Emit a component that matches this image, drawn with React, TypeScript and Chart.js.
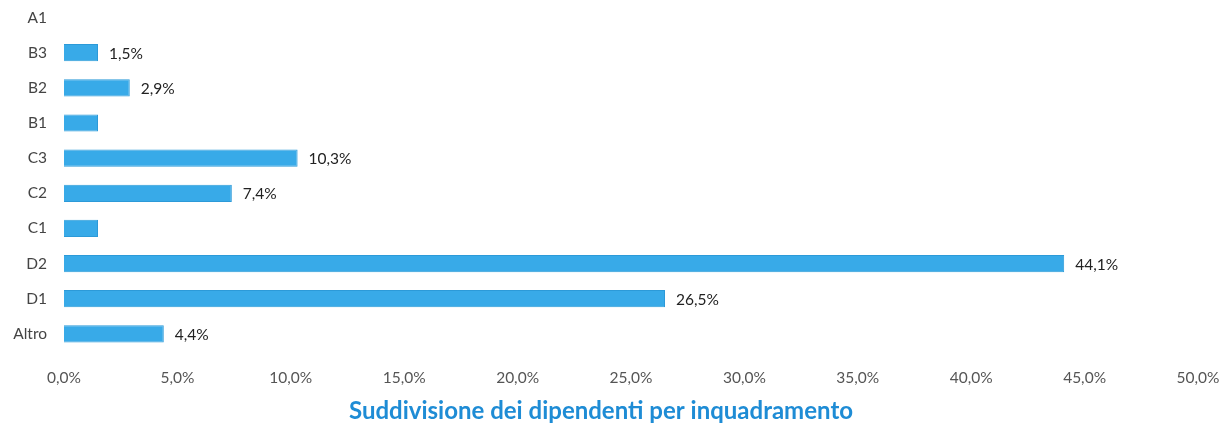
import React, { useEffect, useRef } from "react";
import { Chart, registerables } from "chart.js";

Chart.register(...registerables);

const categories = ["A1", "B3", "B2", "B1", "C3", "C2", "C1", "D2", "D1", "Altro"];
const values = [0, 1.5, 2.9, 1.5, 10.3, 7.4, 1.5, 44.1, 26.5, 4.4];
const valueLabels: (string | null)[] = [null, "1,5%", "2,9%", null, "10,3%", "7,4%", null, "44,1%", "26,5%", "4,4%"];
const titleText = "Suddivisione dei dipendenti per inquadramento";

const FONT = "Lato, 'Open Sans', sans-serif";

const valueLabelPlugin = {
  id: "valueLabels",
  afterDatasetsDraw(chart: any) {
    const ctx = chart.ctx;
    const meta = chart.getDatasetMeta(0);
    ctx.save();
    ctx.font = `15.5px ${FONT}`;
    ctx.fillStyle = "#222";
    ctx.textAlign = "left";
    ctx.textBaseline = "middle";
    meta.data.forEach((bar: any, i: number) => {
      const lbl = valueLabels[i];
      if (!lbl) return;
      ctx.fillText(lbl, bar.x + 11, bar.y + 1);
    });
    ctx.restore();
  },
};

const bottomTitlePlugin = {
  id: "bottomTitle",
  afterDraw(chart: any) {
    const ctx = chart.ctx;
    ctx.save();
    ctx.font = `bold 24px ${FONT}`;
    ctx.fillStyle = "#1E8CD5";
    ctx.textAlign = "center";
    ctx.textBaseline = "middle";
    ctx.fillText(titleText, 601, 411);
    ctx.restore();
  },
};

export default function App() {
  const ref = useRef<HTMLCanvasElement | null>(null);
  useEffect(() => {
    if (!ref.current) return;
    const chart = new Chart(ref.current, {
      type: "bar",
      data: {
        labels: categories,
        datasets: [
          {
            data: values,
            backgroundColor: "#38AAE8",
            borderColor: "#2C9AD8",
            borderWidth: 1,
            barPercentage: 0.49,
            categoryPercentage: 1,
          },
        ],
      },
      plugins: [valueLabelPlugin, bottomTitlePlugin],
      options: {
        indexAxis: "y",
        animation: false,
        responsive: false,
        layout: { padding: { top: 0, right: 29, bottom: 26, left: 0 } },
        plugins: {
          legend: { display: false },
          title: { display: false },
          tooltip: { enabled: false },
        },
        scales: {
          x: {
            min: 0,
            max: 50,
            grid: { display: false, drawTicks: false },
            border: { display: false },
            afterFit: (scale: any) => {
              scale.paddingLeft = 0;
              scale.paddingRight = 0;
            },
            ticks: {
              stepSize: 5,
              padding: 17,
              color: "#555",
              font: { family: FONT, size: 15.5 },
              maxRotation: 0,
              callback: (v: any) => Number(v).toFixed(1).replace(".", ",") + "%",
            },
          },
          y: {
            grid: { display: false, drawTicks: false },
            border: { display: false },
            afterFit: (scale: any) => {
              scale.width = 64;
              scale.paddingTop = 0;
              scale.paddingBottom = 0;
            },
            ticks: {
              padding: 17,
              color: "#444",
              font: { family: FONT, size: 15.5 },
            },
          },
        },
      },
    });
    return () => chart.destroy();
  }, []);
  return (
    <div style={{ position: "absolute", left: 0, top: 0, width: 1227, height: 430, background: "#fff" }}>
      <canvas ref={ref} width={1227} height={430} />
    </div>
  );
}
